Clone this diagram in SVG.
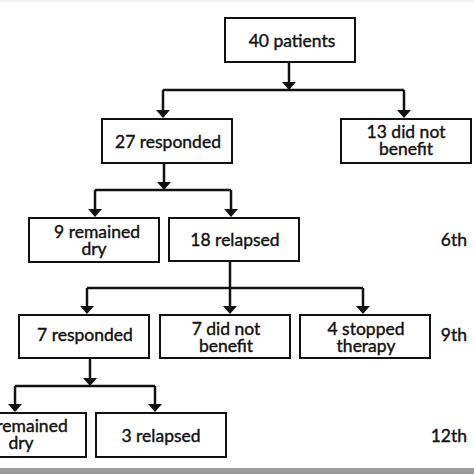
<svg xmlns="http://www.w3.org/2000/svg" width="474" height="474" viewBox="0 0 474 474">
<defs>
<style>
.box{fill:#fff;stroke:#111;stroke-width:2}
.t{font-family:Lato,"Open Sans",sans-serif;font-size:17.5px;fill:#111;stroke:#111;stroke-width:0.4;text-anchor:middle}
.lbl{font-family:Lato,"Open Sans",sans-serif;font-size:17.5px;fill:#111;stroke:#111;stroke-width:0.4;text-anchor:end}
.c{fill:none;stroke:#111;stroke-width:2.5}
</style>
<marker id="ah" markerUnits="userSpaceOnUse" markerWidth="10" markerHeight="16" viewBox="0 -8 10 16" refX="4" refY="0" orient="auto">
<path d="M0,-7 L8,0 L0,7 z" fill="#111"/>
</marker>
</defs>
<rect x="0" y="0" width="474" height="474" fill="#fff"/>
<rect x="0" y="0" width="474" height="2" fill="#f1f1f1"/>
<rect x="0" y="468" width="474" height="6" fill="#9a9a9a"/>
<g id="connectors">
<path class="c" d="M289,62 V86" marker-end="url(#ah)"/>
<path class="c" d="M163,90 H404"/>
<path class="c" d="M163,90 V114" marker-end="url(#ah)"/>
<path class="c" d="M404,90 V114" marker-end="url(#ah)"/>
<path class="c" d="M164,163 V186" marker-end="url(#ah)"/>
<path class="c" d="M95,190 H231"/>
<path class="c" d="M95,190 V213" marker-end="url(#ah)"/>
<path class="c" d="M231,190 V213" marker-end="url(#ah)"/>
<path class="c" d="M230,261 V310" marker-end="url(#ah)"/>
<path class="c" d="M87,288 H363"/>
<path class="c" d="M87,288 V310" marker-end="url(#ah)"/>
<path class="c" d="M363,288 V310" marker-end="url(#ah)"/>
<path class="c" d="M90,358 V382" marker-end="url(#ah)"/>
<path class="c" d="M15,386 H155"/>
<path class="c" d="M15,386 V408" marker-end="url(#ah)"/>
<path class="c" d="M155,386 V408" marker-end="url(#ah)"/>
</g>
<g id="n40"><rect class="box" x="225" y="18" width="130" height="44"/><text class="t" x="292" y="47">40 patients</text></g>
<g id="n27"><rect class="box" x="102" y="119" width="130" height="44"/><text class="t" x="168" y="148">27 responded</text></g>
<g id="n13"><rect class="box" x="341" y="119" width="130" height="44"/><text class="t" x="406" y="138">13 did not</text><text class="t" x="406" y="155">benefit</text></g>
<g id="n9"><rect class="box" x="29" y="218" width="130" height="44"/><text class="t" x="97" y="238">9 remained</text><text class="t" x="94" y="255">dry</text></g>
<g id="n18"><rect class="box" x="169" y="218" width="130" height="43"/><text class="t" x="235" y="246">18 relapsed</text></g>
<g id="n7r"><rect class="box" x="19" y="315" width="130" height="43"/><text class="t" x="85" y="341">7 responded</text></g>
<g id="n7d"><rect class="box" x="160" y="315" width="130" height="43"/><text class="t" x="226" y="335">7 did not</text><text class="t" x="226" y="352">benefit</text></g>
<g id="n4"><rect class="box" x="300" y="315" width="130" height="43"/><text class="t" x="366" y="335">4 stopped</text><text class="t" x="366" y="352">therapy</text></g>
<g id="nrd"><rect class="box" x="-44" y="413" width="130" height="44"/><text class="t" x="32" y="432">remained</text><text class="t" x="21" y="449">dry</text></g>
<g id="n3"><rect class="box" x="96" y="413" width="130" height="44"/><text class="t" x="161" y="442">3 relapsed</text></g>
<g id="labels">
<text class="lbl" x="467" y="246">6th</text>
<text class="lbl" x="467" y="341">9th</text>
<text class="lbl" x="467" y="442">12th</text>
</g>
</svg>
